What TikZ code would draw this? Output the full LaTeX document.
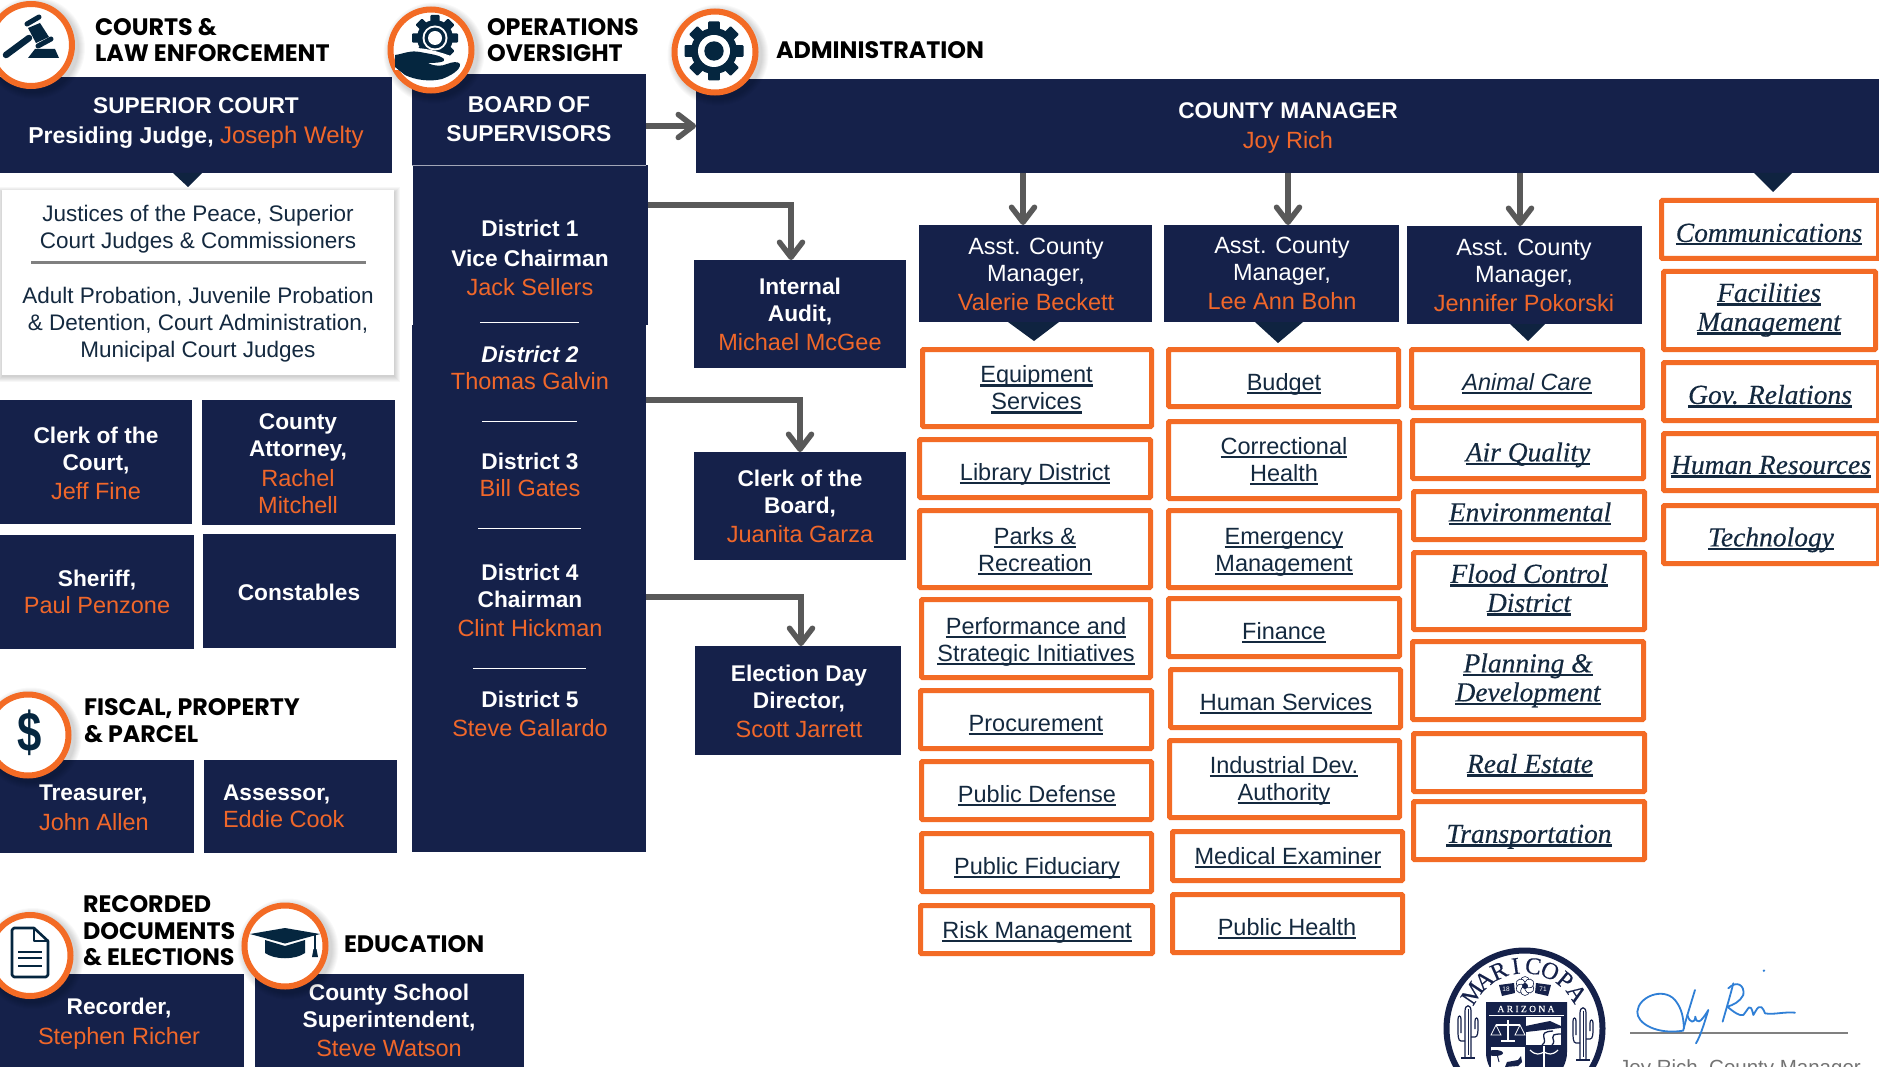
\documentclass[tikz,border=0pt]{standalone}
\usepackage{fontspec}
\setmainfont{Liberation Sans}
\newfontfamily\pop[Scale=1]{Poppins}
\newfontfamily\srf[FakeBold=0.35]{Liberation Serif}
\usetikzlibrary{arrows.meta}
\definecolor{navy}{HTML}{15214A}
\definecolor{oc}{HTML}{F36B25}
\definecolor{namec}{HTML}{F0672A}
\definecolor{ico}{HTML}{05263F}
\definecolor{inkc}{HTML}{14293F}
\definecolor{arrowc}{HTML}{595959}
\definecolor{tric}{HTML}{0F2340}
\definecolor{sigc}{HTML}{2F7FD6}
\newcommand\tl[1]{\vrule height .72em depth 0pt width 0pt\smash{#1}}
\newcommand\ulin[1]{\setbox0=\hbox{#1}\rlap{\copy0}\rule[-3.6pt]{\wd0}{2.2pt}}
\newcommand\utl[1]{\tl{\ulin{#1}}}
\newcommand\nmc[1]{\textcolor{namec}{#1}}
\newcommand\bl[1]{\tl{\bfseries\fontsize{22.7}{27}\selectfont #1}}
\newcommand\nl[1]{\tl{\nmc{#1}}}
\newcommand\bx[6]{\node[#6,minimum width={#4-#2},minimum height={#5-#3}] (#1) at ({(#2+#4)/2},{(#3+#5)/2}) {};}
\newcommand\ob[5]{\node[obox,minimum width={#4-#2-5},minimum height={#5-#3-5}] (#1) at ({(#2+#4)/2},{(#3+#5)/2}) {};}
\newcommand\tx[5][]{\node[tbase,#1] (#2) at (#3,#4) {#5};}
\newcommand\badge[4]{%
  \foreach \i in {1,...,7}{\fill[black,opacity=.022] ({#2+3},{#3+3}) circle ({#4+\i});}
  \node[circle,draw=oc,fill=white,line width=6pt,inner sep=0pt,minimum size={2*#4-6}] (#1) at (#2,#3) {};}
\newcommand\gearico[3]{%
  \fill[ico] (#1,#2) circle ({.78*#3});
  \foreach \a in {0,45,...,315}{\fill[ico,rounded corners=1pt,shift={(#1,#2)},rotate=\a] ({-.2*#3},{-#3}) rectangle ({.2*#3},0);}}
\tikzset{
  nbox/.style={rectangle,fill=navy,inner sep=0pt,outer sep=0pt},
  obox/.style={rectangle,draw=oc,fill=white,line width=5pt,rounded corners=1pt,inner sep=0pt,outer sep=0pt},
  tbase/.style={inner sep=0pt,outer sep=0pt,align=center},
  wt/.style={text=white,font=\fontsize{23.5}{27}\selectfont},
  hd/.style={anchor=west,align=left,text=black,font=\pop\bfseries\fontsize{23.8}{26.5}\selectfont},
  dk/.style={text=inkc,font=\fontsize{22.5}{27}\selectfont},
  ut/.style={text=inkc,font=\fontsize{23.5}{27}\selectfont},
  us/.style={text=inkc,font=\srf\itshape\fontsize{27.5}{29}\selectfont},
  conn/.style={draw=arrowc,line width=5.5pt,-{Straight Barb[length=15pt,width=23pt,round]}},
  ruleline/.style={draw=white,line width=.9pt},
  tri/.style={fill=tric},
  sig/.style={draw=sigc,line width=1.8pt,line cap=round,line join=round}
}
\begin{document}
\begin{tikzpicture}[x=1pt,y=-1pt]
\useasboundingbox (0,0) rectangle (1879,1067);
\fill[white] (0,0) rectangle (1879,1067);
% ---------- courts column
\bx{court}{0}{77}{392}{173}{nbox}
\fill[tri] (173,173) -- (202,173) -- (188,187) -- cycle;
\foreach \i in {1,...,6}{\fill[black,opacity=.03] ({2-\i+1},{190-\i+3}) rectangle ({394+\i},{375+\i+1});}
\bx{courtsub}{2}{190}{394}{375}{rectangle,fill=white,inner sep=0pt,outer sep=0pt}
\draw[draw=black!50,line width=3pt] (31,263) -- (366,263);
\tx[wt]{courtt}{196}{120}{\bl{SUPERIOR COURT}\\[3pt]\tl{{\bfseries\fontsize{23}{27}\selectfont Presiding Judge, }\fontsize{24}{27}\selectfont\nmc{Joseph Welty}}}
\tx[dk]{courtj}{198}{226.5}{\tl{Justices of the Peace, Superior}\\\tl{Court Judges \& Commissioners}}
\tx[dk]{courta}{198}{322.5}{\tl{Adult Probation, Juvenile Probation}\\\tl{\& Detention, Court Administration,}\\\tl{Municipal Court Judges}}
\bx{clerkc}{0}{400}{192}{524}{nbox}
\bx{attorney}{202}{400}{395}{525}{nbox}
\bx{sheriff}{0}{535}{194}{649}{nbox}
\bx{constables}{203}{534}{396}{648}{nbox}
\tx[wt]{clerkct}{96}{463}{\bl{Clerk of the}\\\bl{Court,}\\[2pt]\nl{Jeff Fine}}
\tx[wt]{attorneyt}{298}{463.5}{\bl{County}\\\bl{Attorney,}\\[3pt]\nl{Rachel}\\\nl{Mitchell}}
\tx[wt]{sherifft}{97}{592}{\bl{Sheriff,}\\\nl{Paul Penzone}}
\tx[wt]{constablest}{299}{592}{\bl{Constables}}
\bx{treasurer}{0}{760}{194}{853}{nbox}
\bx{assessor}{204}{760}{397}{853}{nbox}
\tx[wt,align=left,anchor=west]{treasurert}{39}{807}{\bl{Treasurer,}\\[3pt]\nl{John Allen}}
\tx[wt,align=left,anchor=west]{assessort}{223}{805.5}{\bl{Assessor,}\\\nl{Eddie Cook}}
\bx{recorder}{0}{974}{244}{1068}{nbox}
\bx{school}{255}{974}{524}{1068}{nbox}
\tx[wt]{recordert}{119}{1021}{\bl{Recorder,}\\[3pt]\nl{Stephen Richer}}
\tx[wt]{schoolt}{389}{1020.5}{\bl{County School}\\\bl{Superintendent,}\\[2pt]\nl{Steve Watson}}
% ---------- board column
\bx{board}{412}{74}{646}{165}{nbox}
\bx{col1}{413}{165}{648}{325}{nbox}
\bx{col2}{412}{325}{646}{852}{nbox}
\draw[draw=white!60!navy,line width=.8pt] (412,165) -- (646,165);
\tx[wt,font=\bfseries\fontsize{22.9}{29}\selectfont]{boardt}{529}{118.5}{\tl{BOARD OF}\\\tl{SUPERVISORS}}
\tx[wt]{d1}{530}{257.5}{\bl{District 1}\\[3pt]\bl{Vice Chairman}\\[2pt]\nl{Jack Sellers}}
\draw[ruleline] (480,322) -- (579,322);
\tx[wt]{d2}{530}{368}{\tl{\bfseries\itshape\fontsize{22.7}{27}\selectfont District 2}\\\nl{Thomas Galvin}}
\draw[ruleline] (482,421) -- (577,421);
\tx[wt]{d3}{530}{474.5}{\bl{District 3}\\\nl{Bill Gates}}
\draw[ruleline] (478,528) -- (581,528);
\tx[wt]{d4}{530}{600}{\bl{District 4}\\\bl{Chairman}\\[2pt]\nl{Clint Hickman}}
\draw[ruleline] (473,668) -- (586,668);
\tx[wt]{d5}{530}{714}{\bl{District 5}\\[2pt]\nl{Steve Gallardo}}
% ---------- oversight boxes
\bx{audit}{694}{260}{906}{368}{nbox}
\bx{clerkb}{694}{452}{906}{560}{nbox}
\bx{election}{695}{646}{901}{755}{nbox}
\tx[wt]{auditt}{800}{314}{\bl{Internal}\\\bl{Audit,}\\[2pt]\nl{Michael McGee}}
\tx[wt]{clerkbt}{800}{506}{\bl{Clerk of the}\\\bl{Board,}\\[2pt]\nl{Juanita Garza}}
\tx[wt]{electiont}{799}{701}{\bl{Election Day}\\\bl{Director,}\\[2pt]\nl{Scott Jarrett}}
% ---------- county manager
\bx{mgr}{696}{79}{1880}{173}{nbox}
\tx[wt]{mgrt}{1288}{125}{\bl{COUNTY MANAGER}\\[3pt]\nl{Joy Rich}}
\bx{asst1}{919}{225}{1152}{322}{nbox}
\bx{asst2}{1164}{225}{1399}{322}{nbox}
\bx{asst3}{1407}{226}{1642}{324}{nbox}
\tx[wt]{asst1t}{1036}{274}{\tl{Asst. County}\\\tl{Manager,}\\[2pt]\nl{Valerie Beckett}}
\tx[wt]{asst2t}{1282}{273}{\tl{Asst. County}\\\tl{Manager,}\\[2pt]\nl{Lee Ann Bohn}}
\tx[wt]{asst3t}{1524}{275}{\tl{Asst. County}\\\tl{Manager,}\\[2pt]\nl{Jennifer Pokorski}}
\fill[tri] (1008,322) -- (1059,322) -- (1034,341) -- cycle;
\fill[tri] (1255,322) -- (1303,322) -- (1278,343) -- cycle;
\fill[tri] (1510,324) -- (1545,324) -- (1528,341) -- cycle;
\fill[tri] (1754,173) -- (1792,173) -- (1773,192) -- cycle;
% ---------- column 1
\ob{equip}{920}{347}{1154}{429}
\ob{library}{917}{437}{1153}{500}
\ob{parks}{917}{508}{1153}{590}
\ob{perf}{919}{597}{1153}{680}
\ob{procure}{918}{688}{1154}{751}
\ob{defense}{919}{759}{1154}{822}
\ob{fiduciary}{919}{831}{1154}{894}
\ob{risk}{918}{903}{1155}{956}
\tx[ut]{equipt}{1036.5}{388}{\utl{Equipment}\\\utl{Services}}
\tx[ut]{libraryt}{1035}{472}{\utl{Library District}}
\tx[ut]{parkst}{1035}{549.5}{\utl{Parks \&}\\\utl{Recreation}}
\tx[ut]{perft}{1036}{639.5}{\utl{Performance and}\\\utl{Strategic Initiatives}}
\tx[ut]{procuret}{1036}{723}{\utl{Procurement}}
\tx[ut]{defenset}{1037}{794}{\utl{Public Defense}}
\tx[ut]{fiduciaryt}{1037}{866}{\utl{Public Fiduciary}}
\tx[ut]{riskt}{1037}{930}{\utl{Risk Management}}
% ---------- column 2
\ob{budget}{1166}{347}{1401}{409}
\ob{correct}{1166}{419}{1402}{501}
\ob{emerg}{1166}{508}{1402}{590}
\ob{finance}{1166}{596}{1402}{659}
\ob{human}{1168}{667}{1403}{730}
\ob{indus}{1167}{738}{1402}{820}
\ob{medical}{1170}{829}{1405}{883}
\ob{health}{1170}{892}{1405}{955}
\tx[ut]{budgett}{1284}{382}{\utl{Budget}}
\tx[ut]{correctt}{1284}{459.5}{\utl{Correctional}\\\utl{Health}}
\tx[ut]{emergt}{1284}{549.5}{\utl{Emergency}\\\utl{Management}}
\tx[ut]{financet}{1284}{631}{\utl{Finance}}
\tx[ut]{humant}{1286}{702}{\utl{Human Services}}
\tx[ut]{indust}{1284}{778.5}{\utl{Industrial Dev.}\\\utl{Authority}}
\tx[ut]{medicalt}{1288}{856}{\utl{Medical Examiner}}
\tx[ut]{healtht}{1287}{927}{\utl{Public Health}}
% ---------- column 3
\ob{animal}{1409}{347}{1645}{410}
\ob{air}{1410}{418}{1646}{481}
\ob{env}{1411}{489}{1647}{542}
\ob{flood}{1411}{550}{1647}{632}
\ob{planning}{1410}{639}{1646}{722}
\ob{estate}{1411}{731}{1647}{794}
\ob{transport}{1411}{799}{1647}{862}
\tx[ut,font=\itshape\fontsize{23.5}{27}\selectfont]{animalt}{1527}{382}{\utl{Animal Care}}
\tx[us]{airt}{1528}{451.5}{\utl{Air Quality}}
\tx[us]{envt}{1530}{511.5}{\utl{Environmental}}
\tx[us]{floodt}{1529}{587.5}{\utl{Flood Control}\\\utl{District}}
\tx[us]{planningt}{1528}{677}{\utl{Planning \&}\\\utl{Development}}
\tx[us]{estatet}{1530}{763}{\utl{Real Estate}}
\tx[us]{transportt}{1529}{833}{\utl{Transportation}}
% ---------- column 4
\ob{comm}{1659}{198}{1881}{261}
\ob{facil}{1661}{269}{1878}{352}
\ob{gov}{1661}{360}{1881}{423}
\ob{hr}{1661}{431}{1881}{493}
\ob{tech}{1661}{503}{1881}{566}
\tx[us]{commt}{1769}{232}{\utl{Communications}}
\tx[us]{facilt}{1769}{306.5}{\utl{Facilities}\\\utl{Management}}
\tx[us]{govt}{1770}{394}{\utl{Gov. Relations}}
\tx[us]{hrt}{1771}{464}{\utl{Human Resources}}
\tx[us]{techt}{1771}{536.5}{\utl{Technology}}
% ---------- connectors
\coordinate (c1) at (0,205);
\coordinate (c2) at (0,400);
\coordinate (c3) at (0,597);
\coordinate (a1) at (1023,0);
\coordinate (a2) at (1288,0);
\coordinate (a3) at (1520,0);
\draw[conn] ([yshift=-6.5pt]board.east) -- ([yshift=-6.5pt]board.east -| mgr.west);
\draw[conn] (col1.east |- c1) -| ([xshift=-9pt]audit.north);
\draw[conn] (col2.east |- c2) -| (clerkb.north);
\draw[conn] (col2.east |- c3) -| ([xshift=3pt]election.north);
\draw[conn] (mgr.south -| a1) -- (asst1.north -| a1);
\draw[conn] (mgr.south -| a2) -- (asst2.north -| a2);
\draw[conn] (mgr.south -| a3) -- (asst3.north -| a3);
% ---------- badges and headings
\badge{b1}{31}{45}{44}
\fill[ico] (28,28) -- (40,23) -- (49,37) -- (36,43) -- cycle;
\draw[ico,line width=5pt,line cap=round] (27,24) -- (39,17);
\draw[ico,line width=5pt,line cap=round] (38,46) -- (51,39);
\draw[ico,line width=6.5pt,line cap=round] (6,55) -- (29,38);
\fill[ico] (35,49) -- (55,49) -- (59,58) -- (28,58) -- cycle;
\tx[hd]{h1}{95}{40}{\tl{COURTS \&}\\\tl{LAW ENFORCEMENT}}
\badge{b2}{431}{50}{43.5}
\gearico{435}{38}{23}
\fill[white] (435,38) circle (12.5);
\fill[ico] (435,38) circle (10.5);
\fill[white] (435,38) circle (7);
\fill[white] (395,50) .. controls (420,44) and (440,52) .. (462,60) -- (462,70) -- (395,70) -- cycle;
\fill[ico] (395,55) .. controls (403,54) and (410,50) .. (420,52) .. controls (430,54) and (440,55) .. (444,59) .. controls (446,62) and (438,63) .. (428,63) .. controls (436,67) and (442,66) .. (447,64) .. controls (452,62) and (458,61) .. (460,64) .. controls (461,70) and (450,76) .. (442,79) .. controls (430,82) and (415,80) .. (405,75) -- (395,67) -- cycle;
\tx[hd]{h2}{487}{40}{\tl{OPERATIONS}\\\tl{OVERSIGHT}}
\badge{b3}{715}{52}{43.5}
\gearico{714}{51}{29.5}
\fill[white] (714,51) circle (16);
\fill[ico] (714,51) circle (9.7);
\tx[hd]{h3}{776}{50}{\tl{ADMINISTRATION}}
\badge{b4}{28}{735}{43.5}
\node[inner sep=0pt,text=ico,font=\bfseries\fontsize{56}{56}\selectfont] (dollar) at (30,733) {\scalebox{.78}[1]{\$}};
\tx[hd]{h4}{84}{720.5}{\tl{FISCAL, PROPERTY}\\\tl{\& PARCEL}}
\badge{b5}{30}{955.5}{43.5}
\draw[ico,line width=2.6pt,line join=round,fill=white] (14,928) -- (34,928) -- (48,941) -- (48,975) -- (46,977) -- (14,977) -- (12,975) -- (12,930) -- cycle;
\draw[ico,line width=2.4pt,line join=round] (34,928) -- (34,941) -- (48,941);
\foreach \yy in {952,958,966}{\draw[ico,line width=2.4pt] (18,\yy) -- (42,\yy);}
\tx[hd]{h5}{83}{930.5}{\tl{RECORDED}\\\tl{DOCUMENTS}\\\tl{\& ELECTIONS}}
\badge{b6}{285}{946}{43.5}
\fill[ico] (265,940) -- (285,946) -- (305,940) -- (305,953) .. controls (295,960) and (275,960) .. (265,953) -- cycle;
\fill[ico] (250,934) -- (285,928) -- (320,934) -- (285,943.5) -- cycle;
\draw[ico,line width=1.4pt] (315,935) -- (315,950);
\fill[ico] (313.5,949) -- (316.5,949) -- (318,957) -- (312,957) -- cycle;
\tx[hd]{h6}{344}{944}{\tl{EDUCATION}}
% ---------- seal
\fill[white] (1524.5,1028.5) circle (81);
\draw[navy,line width=6pt] (1524.5,1028.5) circle (78);
\foreach \c [count=\i] in {M,A,R,I,C,O,P,A}{
  \pgfmathsetmacro\ang{-56+16*(\i-1)}
  \node[inner sep=0pt,text=navy,font=\srf\fontsize{24}{24}\selectfont,rotate=-\ang] (seal\i) at ({1524.5+63*sin(\ang)},{1028.5-63*cos(\ang)}) {\c};
}
\fill[navy] (1499,985) -- (1514,983) -- (1515,993) -- (1502,996) -- cycle;
\fill[navy] (1551,985) -- (1536,983) -- (1535,993) -- (1548,996) -- cycle;
\node[inner sep=0pt,text=white,font=\fontsize{6.5}{7}\selectfont] (seal18) at (1506,989) {18};
\node[inner sep=0pt,text=white,font=\fontsize{6.5}{7}\selectfont] (seal71) at (1543,989) {71};
\foreach \a in {0,60,...,300}{\draw[navy,fill=white,line width=.6pt,shift={(1525,986)},rotate=\a] (0,-5) circle (4.5);}
\fill[navy] (1525,986) circle (3);
\fill[navy] (1486,1002) -- (1567,1002) -- (1567,1052) .. controls (1567,1075) and (1545,1085) .. (1526,1095) .. controls (1507,1085) and (1486,1075) .. (1486,1052) -- cycle;
\draw[white,line width=.8pt] (1489,1015.5) -- (1564,1015.5);
\node[inner sep=0pt,text=white,font=\srf\fontsize{9.5}{10}\selectfont] (sealaz) at (1526,1009) {A R I Z O N A};
\fill[white] (1526,1017) rectangle (1561,1045);
\fill[white] (1491,1047) rectangle (1525,1072);
\draw[white,line width=1.2pt] (1508,1020) -- (1508,1040) (1496,1025) -- (1520,1025) (1501,1041) -- (1515,1041);
\draw[white,line width=.8pt] (1496,1025) -- (1491,1035) -- (1501,1035) -- cycle (1520,1025) -- (1515,1035) -- (1525,1035) -- cycle;
\fill[navy] (1526,1026) .. controls (1535,1024) and (1545,1022) .. (1550,1021) -- (1561,1026) -- (1561,1028) -- (1526,1032) -- cycle;
\draw[navy,line width=1.3pt] (1553,1031) .. controls (1535,1032) and (1550,1040) .. (1542,1045) (1561,1034) .. controls (1545,1034) and (1558,1040) .. (1552,1045);
\fill[navy] (1495,1053) ellipse (8 and 3);
\draw[navy,line width=1pt] (1497,1054) -- (1499,1062);
\fill[navy] (1507,1062) -- (1518,1060) -- (1521,1056) -- (1522,1062) -- (1518,1066) -- (1505,1067) -- cycle;
\draw[white,line width=1.2pt] (1544,1046) -- (1544,1067);
\draw[white,line width=1.2pt] (1530,1050) .. controls (1536,1056) and (1540,1054) .. (1544,1052) .. controls (1548,1054) and (1552,1056) .. (1558,1050);
\foreach \sx/\sy in {1468/1005,1583/1007}{
  \begin{scope}[shift={(\sx,\sy)}]
  \draw[navy,line width=1.2pt,fill=white] (-3,52) -- (-3,6) .. controls (-3,-1) and (3,-1) .. (3,6) -- (3,52);
  \draw[navy,line width=.9pt] (0,4) -- (0,50);
  \draw[navy,line width=1.2pt] (-3,36) -- (-7,36) .. controls (-10,36) and (-10,30) .. (-10,26) -- (-10,14) .. controls (-10,10) and (-7,10) .. (-7,14) -- (-7,28);
  \draw[navy,line width=1.2pt] (3,32) -- (7,32) .. controls (10,32) and (10,26) .. (10,22) -- (10,16) .. controls (10,12) and (7,12) .. (7,16) -- (7,24);
  \draw[navy,line width=1.2pt] (-7,53) -- (7,53);
  \end{scope}}
% ---------- signature
\draw[draw=black!50,line width=2.4pt] (1630,1033) -- (1848,1033);
\begin{scope}[shift={(1400,900)},x=.3333pt,y=-.3333pt]
\draw[sig] (850,392) .. controls (770,405) and (710,370) .. (712,335) .. controls (715,290) and (790,260) .. (825,300) .. controls (845,325) and (850,350) .. (852,385);
\draw[sig] (885,270) .. controls (870,320) and (860,350) .. (850,390);
\draw[sig] (862,345) .. controls (870,372) and (885,370) .. (886,350) .. controls (890,372) and (900,372) .. (925,330) .. controls (910,380) and (900,410) .. (888,430);
\draw[sig] (1000,250) .. controls (990,290) and (975,340) .. (968,365);
\draw[sig] (985,265) .. controls (1010,240) and (1035,255) .. (1030,285) .. controls (1020,305) and (1000,315) .. (982,320) .. controls (1000,335) and (1020,350) .. (1030,345) .. controls (1045,330) and (1050,300) .. (1060,345) .. controls (1070,330) and (1080,300) .. (1095,340) .. controls (1120,345) and (1150,335) .. (1185,338);
\fill[sigc] (1092,212) circle (4);
\end{scope}
\node[inner sep=0pt,text=black!55,font=\fontsize{20.5}{24}\selectfont] (sigt) at (1740,1069) {Joy Rich, County Manager};
\end{tikzpicture}
\end{document}
